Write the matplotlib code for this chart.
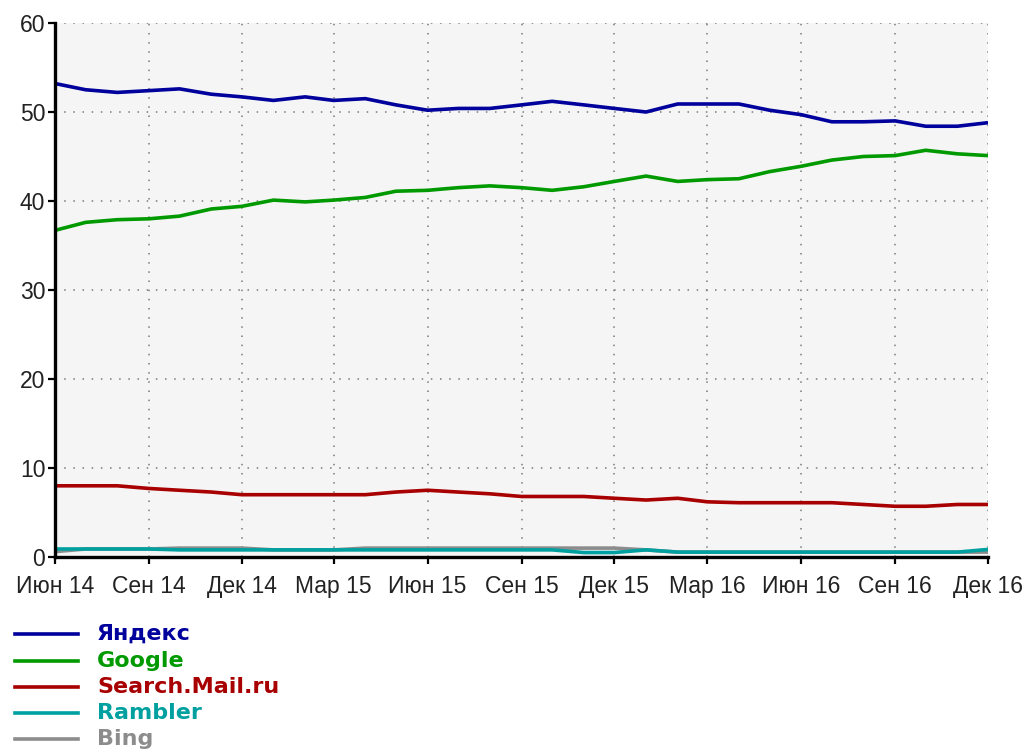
import matplotlib
matplotlib.use("Agg")
import matplotlib.pyplot as plt
from matplotlib.lines import Line2D
import pandas as pd

months = pd.date_range("2014-06-01", "2016-12-01", freq="MS")

yandex = [53.2, 52.5, 52.2, 52.4, 52.6, 52.0, 51.7, 51.3, 51.7, 51.3, 51.5, 50.8,
          50.2, 50.4, 50.4, 50.8, 51.2, 50.8, 50.4, 50.0, 50.9, 50.9, 50.9, 50.2,
          49.7, 48.9, 48.9, 49.0, 48.4, 48.4, 48.8]
google = [36.7, 37.6, 37.9, 38.0, 38.3, 39.1, 39.4, 40.1, 39.9, 40.1, 40.4, 41.1,
          41.2, 41.5, 41.7, 41.5, 41.2, 41.6, 42.2, 42.8, 42.2, 42.4, 42.5, 43.3,
          43.9, 44.6, 45.0, 45.1, 45.7, 45.3, 45.1]
mail = [8.0, 8.0, 8.0, 7.7, 7.5, 7.3, 7.0, 7.0, 7.0, 7.0, 7.0, 7.3,
        7.5, 7.3, 7.1, 6.8, 6.8, 6.8, 6.6, 6.4, 6.6, 6.2, 6.1, 6.1,
        6.1, 6.1, 5.9, 5.7, 5.7, 5.9, 5.9]
rambler = [0.9, 0.9, 0.9, 0.9, 0.8, 0.8, 0.8, 0.8, 0.8, 0.8, 0.8, 0.8,
           0.8, 0.8, 0.8, 0.8, 0.8, 0.5, 0.5, 0.8, 0.55, 0.55, 0.55, 0.55,
           0.55, 0.55, 0.55, 0.55, 0.55, 0.55, 0.85]
bing = [0.6, 0.9, 0.9, 0.9, 1.0, 1.0, 1.0, 0.8, 0.8, 0.8, 1.0, 1.0,
        1.0, 1.0, 1.0, 1.0, 1.0, 1.0, 1.0, 0.8, 0.55, 0.55, 0.55, 0.55,
        0.55, 0.55, 0.55, 0.55, 0.55, 0.55, 0.55]

series_names = ["Яндекс", "Google", "Search.Mail.ru", "Rambler", "Bing"]
series_colors = ["#00009c", "#009a00", "#a80000", "#00a0a0", "#8c8c8c"]

tick_dates = pd.date_range("2014-06-01", "2016-12-01", freq="3MS")
tick_labels = ["Июн 14", "Сен 14", "Дек 14", "Мар 15", "Июн 15", "Сен 15",
               "Дек 15", "Мар 16", "Июн 16", "Сен 16", "Дек 16"]
y_ticks = [0, 10, 20, 30, 40, 50, 60]

W, H = 1025, 752
fig = plt.figure(figsize=(W / 100, H / 100), dpi=100)
ax = fig.add_axes([55 / W, 1 - 557 / H, (988 - 55) / W, (557 - 23) / H])
ax.set_facecolor("#f5f5f5")

data = {"Яндекс": yandex, "Google": google, "Search.Mail.ru": mail,
        "Rambler": rambler, "Bing": bing}
draw_order = ["Bing", "Rambler", "Search.Mail.ru", "Google", "Яндекс"]
for name in draw_order:
    c = series_colors[series_names.index(name)]
    ax.plot(months, data[name], color=c, lw=2.6, solid_capstyle="butt", zorder=3)

ax.set_xlim(months[0], months[-1])
ax.set_ylim(0, 60)
ax.set_xticks(tick_dates)
ax.set_xticklabels(tick_labels)
ax.set_yticks(y_ticks)

ax.grid(True, color="#7a7a7a", linestyle=(0, (1, 5)), lw=1.1, zorder=1)

for s in ["top", "right"]:
    ax.spines[s].set_visible(False)
for s in ["left", "bottom"]:
    ax.spines[s].set_linewidth(2.4)
    ax.spines[s].set_color("black")
    ax.spines[s].set_zorder(4)

ax.tick_params(axis="both", direction="out", length=5, width=1.6, color="black",
               labelcolor="#222222")
ax.tick_params(axis="y", pad=2)
ax.tick_params(axis="x", pad=8)
for lab in ax.get_xticklabels() + ax.get_yticklabels():
    lab.set_fontfamily("Liberation Sans")
    lab.set_fontsize(16.5)

# legend below plot
legend_y = [634, 661, 687, 713, 739]
for name, color, yy in zip(series_names, series_colors, legend_y):
    fy = 1 - yy / H
    fig.add_artist(Line2D([15 / W, 78 / W], [fy, fy], color=color, lw=2.6,
                          transform=fig.transFigure))
    fig.text(97 / W, fy, name, color=color, fontsize=16, fontweight="bold",
             family="DejaVu Sans", va="center", ha="left")

fig.savefig("out.png", dpi=100, facecolor="white")
